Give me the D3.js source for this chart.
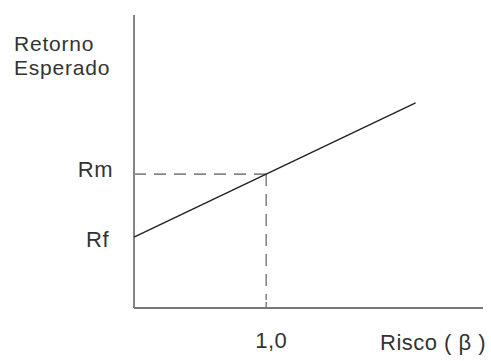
<!DOCTYPE html>
<html><head><meta charset="utf-8">
<script src="https://cdn.jsdelivr.net/npm/d3@7"></script>
<style>body{margin:0;background:#fff}svg{display:block}text{font-family:"Liberation Sans",Arial,sans-serif;fill:#333;letter-spacing:0.5px}</style>
</head><body><svg id="c" width="491" height="361"></svg>
<script>
const betaMarket = 1.0;
const Rf = 2.42, Rm = 4.57;
const lineBetas = [0, 2.13];
const yLabels = ["Retorno", "Esperado"];
const xLabel = "Risco ( β )";
const xTickLabel = "1,0";

const svg = d3.select("#c");
const x = d3.scaleLinear().domain([0, 2.64]).range([134, 483]);
const y = d3.scaleLinear().domain([0, 10]).range([308, 15]);
const fs = 22;

// axes
svg.append("line").attr("x1", x(0)).attr("x2", x(0)).attr("y1", y(10)).attr("y2", y(0)).attr("stroke", "#777").attr("stroke-width", 1.8);
svg.append("line").attr("x1", x(0)).attr("x2", x(2.64)).attr("y1", y(0)).attr("y2", y(0)).attr("stroke", "#777").attr("stroke-width", 1.8);
svg.append("line").attr("x1", x(betaMarket)).attr("x2", x(betaMarket)).attr("y1", y(0)).attr("y2", y(0) - 6).attr("stroke", "#777").attr("stroke-width", 1.4);

// dashed guides
svg.append("line").attr("x1", x(0)).attr("x2", x(betaMarket)).attr("y1", y(Rm)).attr("y2", y(Rm)).attr("stroke", "#888").attr("stroke-width", 1.6).attr("stroke-dasharray", "12,8");
svg.append("line").attr("x1", x(betaMarket)).attr("x2", x(betaMarket)).attr("y1", y(Rm)).attr("y2", y(0) - 8).attr("stroke", "#888").attr("stroke-width", 1.6).attr("stroke-dasharray", "12,8");

// SML
const line = d3.line().x(d => x(d)).y(d => y(Rf + d * (Rm - Rf)));
svg.append("path").attr("d", line(lineBetas)).attr("fill", "none").attr("stroke", "#222").attr("stroke-width", 1.4);

// labels
svg.selectAll(".yl").data(yLabels).enter().append("text").attr("x", 14).attr("y", (d, i) => 51 + i * 24).attr("font-size", 21).style("letter-spacing", "0.8px").text(d => d);
svg.append("text").attr("x", 113).attr("y", y(Rm) + 3).attr("text-anchor", "end").attr("font-size", fs).text("Rm");
svg.append("text").attr("x", 109).attr("y", y(Rf) + 10).attr("text-anchor", "end").attr("font-size", fs).text("Rf");
svg.append("text").attr("x", x(betaMarket) + 5).attr("y", 348).attr("text-anchor", "middle").attr("font-size", fs).text(xTickLabel);
svg.append("text").attr("x", 380).attr("y", 350).attr("font-size", fs).text(xLabel);
</script></body></html>
